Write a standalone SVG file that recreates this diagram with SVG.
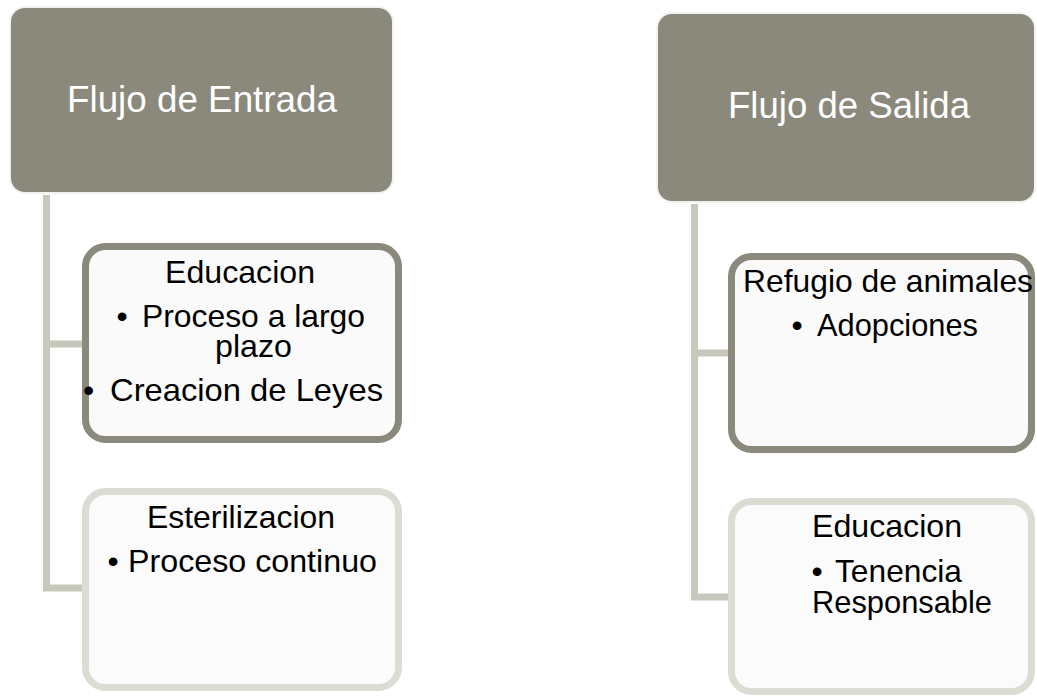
<svg xmlns="http://www.w3.org/2000/svg" width="1037" height="696" viewBox="0 0 1037 696">
  <style>
    .hdr { fill: #8a897c; stroke: #f2f2ef; stroke-width: 2; }
    .hdrtxt { font-family: "Liberation Sans", Arial, sans-serif; font-size: 37px; fill: #ffffff; }
    .box1 { fill: #fafafa; stroke: #8a897c; stroke-width: 7; }
    .box2 { fill: #fbfbfb; stroke: #dddcd4; stroke-width: 7; }
    .txt { font-family: "Liberation Sans", Arial, sans-serif; font-size: 32px; fill: #000000; }
    .conn { fill: none; stroke: #c8c7bb; stroke-width: 7; stroke-linejoin: miter; }
  </style>
  <rect x="0" y="0" width="1037" height="696" fill="#ffffff"/>

  <g id="connectors">
    <path class="conn" d="M46.5,195 V588 H86"/>
    <path class="conn" d="M46.5,344 H86"/>
    <path class="conn" d="M694.5,204 V597 H732"/>
    <path class="conn" d="M694.5,353 H732"/>
  </g>

  <g id="node-flujo-entrada">
    <rect class="hdr" x="10" y="7" width="383" height="186" rx="15" ry="15"/>
    <text class="hdrtxt" x="67" y="112" textLength="270" lengthAdjust="spacingAndGlyphs">Flujo de Entrada</text>
  </g>

  <g id="node-educacion-left">
    <rect class="box1" x="85.5" y="246.5" width="313" height="193" rx="20" ry="20"/>
    <text class="txt" x="165" y="283" textLength="150" lengthAdjust="spacingAndGlyphs">Educacion</text>
    <text class="txt" x="116.5" y="327">•</text>
    <text class="txt" x="142" y="327" textLength="223" lengthAdjust="spacingAndGlyphs">Proceso a largo</text>
    <text class="txt" x="215" y="357" textLength="77" lengthAdjust="spacingAndGlyphs">plazo</text>
    <text class="txt" x="83" y="401">•</text>
    <text class="txt" x="110" y="401" textLength="273" lengthAdjust="spacingAndGlyphs">Creacion de Leyes</text>
  </g>

  <g id="node-esterilizacion">
    <rect class="box2" x="85.5" y="491.5" width="313" height="196" rx="20" ry="20"/>
    <text class="txt" x="147" y="528" textLength="188" lengthAdjust="spacingAndGlyphs">Esterilizacion</text>
    <text class="txt" x="107.5" y="572">•</text>
    <text class="txt" x="128" y="572" textLength="249" lengthAdjust="spacingAndGlyphs">Proceso continuo</text>
  </g>

  <g id="node-flujo-salida">
    <rect class="hdr" x="657" y="13" width="378" height="189" rx="15" ry="15"/>
    <text class="hdrtxt" x="728" y="118" textLength="242" lengthAdjust="spacingAndGlyphs">Flujo de Salida</text>
  </g>

  <g id="node-refugio">
    <rect class="box1" x="731.5" y="256.5" width="300" height="193" rx="20" ry="20"/>
    <text class="txt" x="743" y="292" textLength="290" lengthAdjust="spacingAndGlyphs">Refugio de animales</text>
    <text class="txt" x="791.5" y="336">•</text>
    <text class="txt" x="817" y="336" textLength="161" lengthAdjust="spacingAndGlyphs">Adopciones</text>
  </g>

  <g id="node-educacion-right">
    <rect class="box2" x="731.5" y="501.5" width="300" height="190" rx="20" ry="20"/>
    <text class="txt" x="812" y="537" textLength="150" lengthAdjust="spacingAndGlyphs">Educacion</text>
    <text class="txt" x="811.5" y="582">•</text>
    <text class="txt" x="835" y="582" textLength="127" lengthAdjust="spacingAndGlyphs">Tenencia</text>
    <text class="txt" x="812" y="613" textLength="180" lengthAdjust="spacingAndGlyphs">Responsable</text>
  </g>
</svg>
